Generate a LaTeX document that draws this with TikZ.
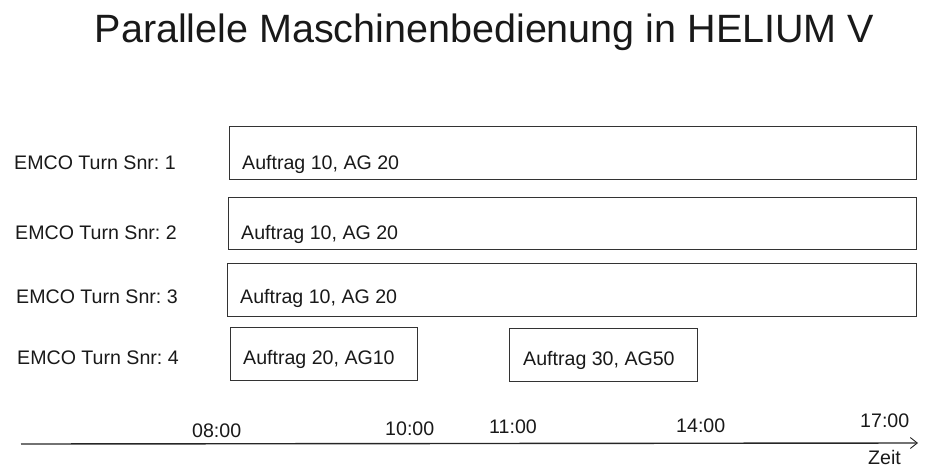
\documentclass[tikz,border=0pt]{standalone}
\usepackage{fontspec}
\setmainfont{Liberation Sans}
\usetikzlibrary{arrows.meta}
\frenchspacing
\begin{document}
\begin{tikzpicture}[x=1pt,y=-1pt,
  txt/.style={inner sep=0pt,anchor=base west,font=\fontsize{19.6}{23}\selectfont,text=black!90},
  bar/.style={draw=black!80,line width=1.1pt,inner sep=0pt,anchor=north west},
  axis/.style={draw=black!85,line width=1.4pt,-{Straight Barb[length=7pt,width=11pt,line width=0.9pt]}}]
\useasboundingbox (0,0) rectangle (933,468);
% title
\node[inner sep=0pt,anchor=base,font=\fontsize{39.5}{46}\selectfont,text=black!90] (title) at (484.5,43) {Parallele Maschinenbedienung in HELIUM V};
% machine labels
\node[txt] (m1) at (14,169) {EMCO Turn Snr: 1};
\node[txt] (m2) at (15,239) {EMCO Turn Snr: 2};
\node[txt] (m3) at (16,303) {EMCO Turn Snr: 3};
\node[txt] (m4) at (17,364) {EMCO Turn Snr: 4};
% bars
\node[bar,minimum width=687pt,minimum height=53pt] (b1) at (229,126) {};
\node[bar,minimum width=688pt,minimum height=52pt] (b2) at (228,197) {};
\node[bar,minimum width=689pt,minimum height=53pt] (b3) at (227,263) {};
\node[bar,minimum width=187pt,minimum height=53pt] (b4) at (230,327) {};
\node[bar,minimum width=188pt,minimum height=53pt] (b5) at (509,328) {};
\node[txt] (t1) at (242,169) {Auftrag 10, AG 20};
\node[txt] (t2) at (241,239) {Auftrag 10, AG 20};
\node[txt] (t3) at (240,303) {Auftrag 10, AG 20};
\node[txt] (t4) at (243,364) {Auftrag 20, AG10};
\node[txt] (t5) at (523,365) {Auftrag 30, AG50};
% time axis
\coordinate (a0) at (21,444);
\coordinate (a1) at (918,443);
\draw[axis] (a0) -- (a1);
\node[txt] (h8) at (192,437) {08:00};
\node[txt] (h10) at (385,435) {10:00};
\node[txt] (h11) at (489,433) {11:00};
\node[txt] (h14) at (676,432) {14:00};
\node[txt] (h17) at (860,427) {17:00};
\node[txt] (zeit) at (868,464) {Zeit};
\end{tikzpicture}
\end{document}
